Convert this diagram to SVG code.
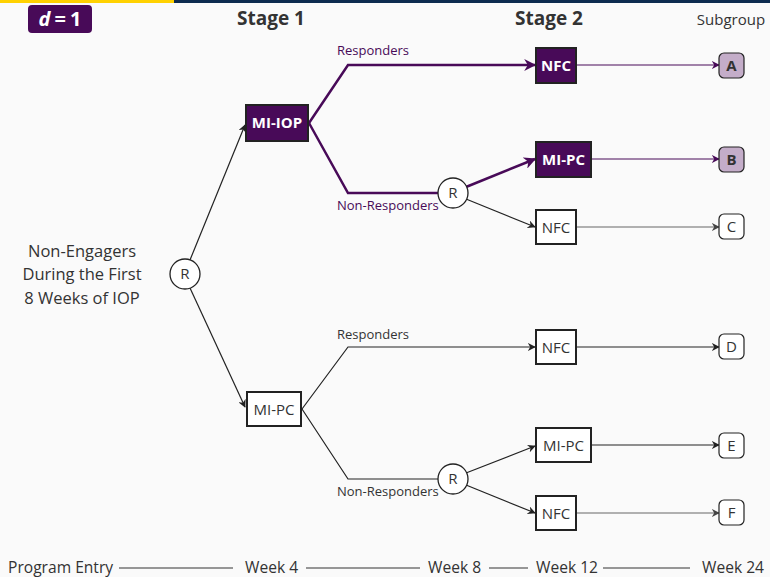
<svg xmlns="http://www.w3.org/2000/svg" width="770" height="577" viewBox="0 0 770 577">
<style>
text{font-family:"Open Sans","Noto Sans",sans-serif;fill:#333}
.t{font-size:15px;text-anchor:middle}
.stage{font-size:19px;font-weight:bold;text-anchor:middle}
.box{fill:#fff;stroke:#222;stroke-width:2}
.pbox{fill:#480a58;stroke:#222;stroke-width:2}
.wt{fill:#fff;font-weight:bold}
.circ{fill:#fff;stroke:#222;stroke-width:1.3}
.sub{fill:#fff;stroke:#222;stroke-width:1.2}
.psub{fill:#c4adc9;stroke:#222;stroke-width:1.2}
.ln{fill:none;stroke:#222;stroke-width:1.2}
.gln{fill:none;stroke:#666;stroke-width:1.2}
.pln{fill:none;stroke:#480a58;stroke-width:2.5}
.pthin{fill:none;stroke:#480a58;stroke-width:1.2}
.lab{font-size:13px}
.plab{font-size:13px;fill:#480a58}
.tl{font-size:15.6px}
.pop{font-size:16.5px;text-anchor:middle}
.tline{stroke:#333;stroke-width:1}
</style>
<defs>
<marker id="ab" viewBox="0 0 10 10" refX="9" refY="5" markerWidth="8" markerHeight="8" markerUnits="userSpaceOnUse" orient="auto"><path d="M0,0 L10,5 L0,10 L3,5 Z" fill="#222"/></marker>
<marker id="ap" viewBox="0 0 10 10" refX="9" refY="5" markerWidth="12" markerHeight="12" markerUnits="userSpaceOnUse" orient="auto"><path d="M0,0 L10,5 L0,10 L3,5 Z" fill="#480a58"/></marker>
<marker id="aps" viewBox="0 0 10 10" refX="9" refY="5" markerWidth="8" markerHeight="8" markerUnits="userSpaceOnUse" orient="auto"><path d="M0,0 L10,5 L0,10 L3,5 Z" fill="#480a58"/></marker>
<marker id="ag" viewBox="0 0 10 10" refX="9" refY="5" markerWidth="8" markerHeight="8" markerUnits="userSpaceOnUse" orient="auto"><path d="M0,0 L10,5 L0,10 L3,5 Z" fill="#444"/></marker>
</defs>
<rect width="770" height="577" fill="#fafafa"/>
<rect x="0" y="0" width="174" height="3" fill="#ffd100"/>
<rect x="174" y="0" width="596" height="3" fill="#0d2b4f"/>

<g id="badge">
<rect x="28" y="5" width="64" height="28" rx="4" fill="#480a58"/>
<text x="60" y="26" text-anchor="middle" font-size="20" font-weight="bold" style="fill:#fff"><tspan font-style="italic">d</tspan><tspan dx="4">=</tspan><tspan dx="4">1</tspan></text>
</g>
<g id="headers">
<text class="stage" x="271" y="25">Stage 1</text>
<text class="stage" x="549" y="25">Stage 2</text>
<text class="t" x="731" y="25" font-size="15.5">Subgroup</text>
</g>

<g id="connectors">
<line class="ln" x1="190" y1="260" x2="245" y2="125" marker-end="url(#ab)"/>
<line class="ln" x1="190" y1="288" x2="245" y2="407" marker-end="url(#ab)"/>
<polyline class="pln" points="309,123 348,65 535,65" marker-end="url(#ap)"/>
<polyline class="pln" points="309,123 348,193 438,193"/>
<line class="pln" x1="466" y1="187" x2="535" y2="159" marker-end="url(#ap)"/>
<line class="ln" x1="466" y1="199" x2="535" y2="227" marker-end="url(#ab)"/>
<polyline class="ln" points="302,409 348,347 535,347" marker-end="url(#ab)"/>
<polyline class="ln" points="302,409 348,479 438,479"/>
<line class="ln" x1="466" y1="473" x2="535" y2="446" marker-end="url(#ab)"/>
<line class="ln" x1="466" y1="485" x2="535" y2="513" marker-end="url(#ab)"/>
<line class="pthin" x1="576" y1="65" x2="719" y2="65" marker-end="url(#aps)"/>
<line class="pthin" x1="592" y1="159" x2="719" y2="159" marker-end="url(#aps)"/>
<line class="gln" x1="576" y1="227" x2="719" y2="227" marker-end="url(#ag)"/>
<line class="ln" x1="576" y1="347" x2="719" y2="347" marker-end="url(#ab)"/>
<line class="ln" x1="592" y1="445" x2="719" y2="445" marker-end="url(#ab)"/>
<line class="gln" x1="576" y1="513" x2="719" y2="513" marker-end="url(#ag)"/>
<text class="plab" x="337" y="55">Responders</text>
<text class="plab" x="337" y="210">Non-Responders</text>
<text class="lab" x="337" y="339">Responders</text>
<text class="lab" x="337" y="496">Non-Responders</text>
</g>

<g id="population"><text class="pop" x="82" y="257">Non-Engagers</text><text class="pop" x="82" y="280">During the First</text><text class="pop" x="82" y="304">8 Weeks of IOP</text></g>

<g id="r0"><circle class="circ" cx="185" cy="274" r="15"/><text class="t" x="185" y="279">R</text></g>
<g id="mi-iop"><rect class="pbox" x="246" y="105" width="62" height="36"/><text class="t wt" x="277" y="128">MI-IOP</text></g>
<g id="mi-pc1"><rect class="box" x="247" y="392" width="54" height="34"/><text class="t" x="274" y="414.5">MI-PC</text></g>
<g id="r1"><circle class="circ" cx="453" cy="193" r="15"/><text class="t" x="453" y="198">R</text></g>
<g id="r2"><circle class="circ" cx="453" cy="479" r="15"/><text class="t" x="453" y="484">R</text></g>

<g id="nfc-a"><rect class="pbox" x="536" y="48" width="40" height="35"/><text class="t wt" x="556" y="70.5">NFC</text></g>
<g id="mipc-b"><rect class="pbox" x="536" y="142" width="55" height="35"/><text class="t wt" x="563.5" y="164.5">MI-PC</text></g>
<g id="nfc-c"><rect class="box" x="536" y="210" width="40" height="34"/><text class="t" x="556" y="232.5">NFC</text></g>
<g id="nfc-d"><rect class="box" x="536" y="330" width="40" height="34"/><text class="t" x="556" y="352.5">NFC</text></g>
<g id="mipc-e"><rect class="box" x="536" y="428" width="55" height="34"/><text class="t" x="563.5" y="450.5">MI-PC</text></g>
<g id="nfc-f"><rect class="box" x="536" y="496" width="40" height="34"/><text class="t" x="556" y="518.5">NFC</text></g>

<g id="sub-a"><rect class="psub" x="719" y="53" width="25" height="25" rx="5"/><text class="t" x="731.5" y="70.5" font-weight="bold">A</text></g>
<g id="sub-b"><rect class="psub" x="719" y="147" width="25" height="25" rx="5"/><text class="t" x="731.5" y="164.5" font-weight="bold">B</text></g>
<g id="sub-c"><rect class="sub" x="719" y="214" width="25" height="25" rx="5"/><text class="t" x="731.5" y="231.5">C</text></g>
<g id="sub-d"><rect class="sub" x="719" y="334" width="25" height="25" rx="5"/><text class="t" x="731.5" y="352">D</text></g>
<g id="sub-e"><rect class="sub" x="719" y="433" width="25" height="25" rx="5"/><text class="t" x="731.5" y="450.5">E</text></g>
<g id="sub-f"><rect class="sub" x="719" y="500" width="25" height="25" rx="5"/><text class="t" x="731.5" y="518">F</text></g>

<g id="timeline">
<text class="tl" x="8" y="573">Program Entry</text>
<line class="tline" x1="119" y1="568" x2="233" y2="568"/>
<text class="tl" x="245" y="573">Week 4</text>
<line class="tline" x1="306" y1="568" x2="420" y2="568"/>
<text class="tl" x="428" y="573">Week 8</text>
<line class="tline" x1="489" y1="568" x2="528" y2="568"/>
<text class="tl" x="536" y="573">Week 12</text>
<line class="tline" x1="603" y1="568" x2="690" y2="568"/>
<text class="tl" x="702" y="573">Week 24</text>
</g>
</svg>
